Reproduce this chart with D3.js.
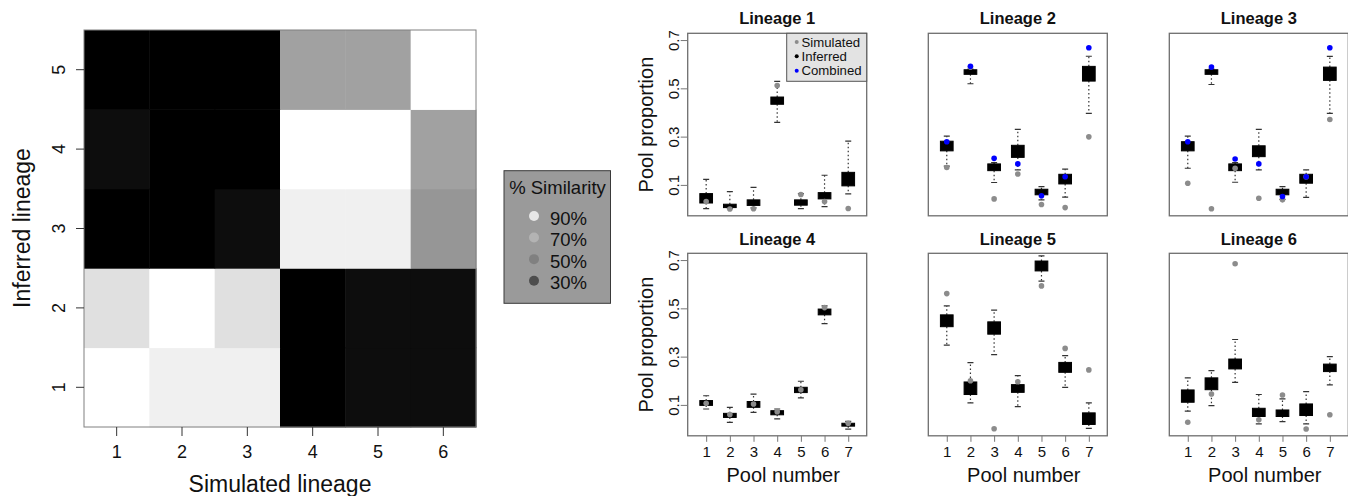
<!DOCTYPE html>
<html>
<head>
<meta charset="utf-8">
<script src="https://cdn.jsdelivr.net/npm/d3@7"></script>
<style>
  html, body { margin: 0; padding: 0; background: #fff; }
  svg { display: block; font-family: "Liberation Sans", Arial, Helvetica, sans-serif; }
</style>
</head>
<body>
<svg id="chart" width="1348" height="496"></svg>
<script>
// ---------------- DATA ----------------
const simulatedLineages = ["1", "2", "3", "4", "5", "6"];
const inferredLineages = ["1", "2", "3", "4", "5"];
// similarity (0..1) rows = inferred lineage 1..5, columns = simulated lineage 1..6
const similarity = [
  [1.00, 0.94, 0.94, 0.00, 0.05, 0.05],
  [0.88, 1.00, 0.88, 0.00, 0.05, 0.05],
  [0.00, 0.00, 0.05, 0.94, 0.94, 0.59],
  [0.05, 0.00, 0.00, 1.00, 1.00, 0.63],
  [0.00, 0.00, 0.00, 0.63, 0.63, 1.00]
];
const similarityLegend = [0.9, 0.7, 0.5, 0.3];
const similarityLegendLabels = ["90%", "70%", "50%", "30%"];

const lineageTitles = ["Lineage 1", "Lineage 2", "Lineage 3", "Lineage 4", "Lineage 5", "Lineage 6"];
const pools = [1, 2, 3, 4, 5, 6, 7];
const yTickValues = [0.1, 0.3, 0.5, 0.7];

// Inferred boxplots per lineage (7 pools each)
const whiskerLow = [
  [0.002, 0.002, 0.005, 0.359, 0.002, 0.010, 0.063],
  [0.178, 0.519, 0.110, 0.162, 0.038, 0.049, 0.396],
  [0.169, 0.516, 0.111, 0.162, 0.040, 0.048, 0.396],
  [0.083, 0.028, 0.069, 0.042, 0.129, 0.437, 0.000],
  [0.348, 0.108, 0.308, 0.093, 0.613, 0.173, 0.003],
  [0.074, 0.097, 0.193, 0.021, 0.031, 0.021, 0.183]
];
const quartile1 = [
  [0.025, 0.006, 0.015, 0.434, 0.016, 0.042, 0.096],
  [0.241, 0.558, 0.159, 0.214, 0.059, 0.104, 0.530],
  [0.241, 0.558, 0.159, 0.217, 0.059, 0.107, 0.533],
  [0.098, 0.048, 0.090, 0.059, 0.151, 0.473, 0.012],
  [0.424, 0.143, 0.393, 0.152, 0.655, 0.235, 0.019],
  [0.111, 0.163, 0.249, 0.052, 0.052, 0.056, 0.238]
];
const quartile3 = [
  [0.064, 0.020, 0.038, 0.464, 0.038, 0.068, 0.152],
  [0.281, 0.577, 0.187, 0.264, 0.082, 0.144, 0.591],
  [0.279, 0.577, 0.187, 0.262, 0.082, 0.144, 0.588],
  [0.118, 0.065, 0.114, 0.076, 0.173, 0.497, 0.024],
  [0.473, 0.195, 0.444, 0.184, 0.696, 0.276, 0.067],
  [0.162, 0.212, 0.290, 0.086, 0.079, 0.104, 0.269]
];
const whiskerHigh = [
  [0.123, 0.072, 0.090, 0.529, 0.064, 0.140, 0.281],
  [0.302, 0.580, 0.192, 0.330, 0.093, 0.165, 0.633],
  [0.302, 0.580, 0.192, 0.330, 0.093, 0.162, 0.632],
  [0.138, 0.090, 0.145, 0.083, 0.198, 0.510, 0.032],
  [0.510, 0.275, 0.493, 0.221, 0.717, 0.304, 0.108],
  [0.212, 0.242, 0.371, 0.143, 0.125, 0.155, 0.300]
];
// Simulated (true) pool proportions
const simulated = [
  [0.031, 0.000, 0.001, 0.512, 0.060, 0.031, 0.002],
  [0.172, 0.588, 0.042, 0.145, 0.019, 0.006, 0.299],
  [0.107, 0.001, 0.169, 0.045, 0.038, 0.134, 0.371],
  [0.107, 0.060, 0.104, 0.072, 0.163, 0.503, 0.024],
  [0.561, 0.200, 0.001, 0.196, 0.593, 0.334, 0.245],
  [0.028, 0.145, 0.685, 0.038, 0.141, 0.000, 0.059]
];
// Combined estimates (only lineages 2 and 3)
const combined = [
  null,
  [0.279, 0.591, 0.210, 0.187, 0.055, 0.134, 0.668],
  [0.279, 0.588, 0.207, 0.187, 0.052, 0.134, 0.668],
  null, null, null
];
const legendLabels = ["Simulated", "Inferred", "Combined"];
const legendColors = ["#8c8c8c", "#000000", "#0000ff"];

// ---------------- DRAW ----------------
const svg = d3.select("#chart");
const FONT = "\"Liberation Sans\", Arial, Helvetica, sans-serif";

// ===== Heatmap =====
const hm = { left: 84, right: 476, top: 30, bottom: 427 };
const hx = d3.scaleBand().domain(simulatedLineages).range([hm.left, hm.right]);
const hy = d3.scaleBand().domain(inferredLineages).range([hm.bottom, hm.top]);
const gray = d3.scaleLinear().domain([0, 1]).range(["#000000", "#ffffff"]);

const cells = [];
similarity.forEach((row, i) => row.forEach((v, j) => cells.push({ r: inferredLineages[i], c: simulatedLineages[j], v })));
svg.append("g").selectAll("rect").data(cells).join("rect")
  .attr("x", d => hx(d.c)).attr("y", d => hy(d.r))
  .attr("width", hx.bandwidth() + 0.5).attr("height", hy.bandwidth() + 0.5)
  .attr("fill", d => gray(d.v));
svg.append("rect").attr("x", hm.left).attr("y", hm.top)
  .attr("width", hm.right - hm.left).attr("height", hm.bottom - hm.top)
  .attr("fill", "none").attr("stroke", "#808080").attr("stroke-width", 1);

const hxAxis = svg.append("g").attr("transform", `translate(0,${hm.bottom})`)
  .call(d3.axisBottom(hx).tickSize(9).tickPadding(0));
hxAxis.select(".domain").remove();
hxAxis.selectAll(".tick line").attr("stroke", "#333");
hxAxis.selectAll(".tick text").attr("y", 25).attr("dy", "0.36em")
  .style("font-size", "18px").style("font-family", FONT).attr("fill", "#111");

const hyAxis = svg.append("g").attr("transform", `translate(${hm.left},0)`)
  .call(d3.axisLeft(hy).tickSize(8).tickPadding(0));
hyAxis.select(".domain").remove();
hyAxis.selectAll(".tick line").attr("stroke", "#333");
hyAxis.selectAll(".tick text").attr("transform", "rotate(-90)")
  .attr("x", 0).attr("y", -19.5).attr("dy", 0).attr("text-anchor", "middle")
  .style("font-size", "18px").style("font-family", FONT).attr("fill", "#111");

svg.append("text").attr("x", (hm.left + hm.right) / 2).attr("y", 491.5)
  .attr("text-anchor", "middle").style("font-size", "23px").attr("fill", "#111")
  .text("Simulated lineage");
svg.append("text").attr("transform", `translate(30,228) rotate(-90)`)
  .attr("text-anchor", "middle").style("font-size", "23px").attr("fill", "#111")
  .text("Inferred lineage");

// Similarity legend
const lg = svg.append("g");
lg.append("rect").attr("x", 504).attr("y", 170.7).attr("width", 106.5).attr("height", 132.6)
  .attr("fill", "#9a9a9a").attr("stroke", "#3a3a3a").attr("stroke-width", 1);
lg.append("text").attr("x", 557.5).attr("y", 193.5).attr("text-anchor", "middle")
  .style("font-size", "18.5px").attr("fill", "#111").text("% Similarity");
const legY = d3.scalePoint().domain(similarityLegendLabels).range([216, 280.7]);
similarityLegend.forEach((v, i) => {
  const lab = similarityLegendLabels[i];
  lg.append("circle").attr("cx", 534).attr("cy", legY(lab)).attr("r", 5).attr("fill", gray(v));
  lg.append("text").attr("x", 550).attr("y", legY(lab) + 8.5)
    .style("font-size", "18.5px").attr("fill", "#111").text(lab);
});

// ===== Boxplot panels =====
const panelLefts = [687.7, 928.3, 1169.3];
const panelTops = [33.3, 253.3];
const PW = 179, PH = 182.5;

lineageTitles.forEach((title, k) => {
  const col = k % 3, row = Math.floor(k / 3);
  const L = panelLefts[col], T = panelTops[row];
  const x = d3.scaleLinear().domain([0.22, 7.78]).range([L, L + PW]);
  const y = d3.scaleLinear().domain([-0.028, 0.728]).range([T + PH, T]);
  const g = svg.append("g");
  const bw = 12.7, sw = 6;

  const stats = pools.map((p, i) => ({
    p, lo: whiskerLow[k][i], q1: quartile1[k][i], q3: quartile3[k][i], hi: whiskerHigh[k][i],
    sim: simulated[k][i], comb: combined[k] ? combined[k][i] : null
  }));

  // whiskers
  g.selectAll(".wh").data(stats).join("path")
    .attr("d", d => `M${x(d.p)},${y(d.q3)}V${y(d.hi)}M${x(d.p)},${y(d.q1)}V${y(d.lo)}`)
    .attr("stroke", "#333").attr("stroke-width", 1.2).attr("stroke-dasharray", "1.5,2.5").attr("fill", "none");
  // staples
  g.selectAll(".st").data(stats).join("path")
    .attr("d", d => `M${x(d.p) - sw / 2},${y(d.hi)}H${x(d.p) + sw / 2}M${x(d.p) - sw / 2},${y(d.lo)}H${x(d.p) + sw / 2}`)
    .attr("stroke", "#333").attr("stroke-width", 1.2).attr("fill", "none");
  // boxes
  g.selectAll(".bx").data(stats).join("rect")
    .attr("x", d => x(d.p) - bw / 2).attr("y", d => y(d.q3))
    .attr("width", bw).attr("height", d => Math.max(1, y(d.q1) - y(d.q3)))
    .attr("fill", "#000").attr("stroke", "#000").attr("stroke-width", 1);
  // simulated points
  g.selectAll(".sim").data(stats).join("circle")
    .attr("cx", d => x(d.p)).attr("cy", d => y(d.sim)).attr("r", 2.8).attr("fill", "#8c8c8c");
  // combined points
  g.selectAll(".cmb").data(stats.filter(d => d.comb !== null)).join("circle")
    .attr("cx", d => x(d.p)).attr("cy", d => y(d.comb)).attr("r", 2.8).attr("fill", "#0000ff");

  // frame
  g.append("rect").attr("x", L).attr("y", T).attr("width", PW).attr("height", PH)
    .attr("fill", "none").attr("stroke", "#6e6e6e").attr("stroke-width", 1.3);

  // title
  g.append("text").attr("x", L + PW / 2).attr("y", row === 0 ? 23.6 : 245.2)
    .attr("text-anchor", "middle").style("font-size", "16.5px").style("font-weight", "bold")
    .attr("fill", "#111").text(title);

  if (col === 0) {
    const ya = g.append("g").attr("transform", `translate(${L},0)`)
      .call(d3.axisLeft(y).tickValues(yTickValues).tickSize(7).tickFormat(d3.format(".1f")));
    ya.select(".domain").remove();
    ya.selectAll(".tick line").attr("stroke", "#777");
    ya.selectAll(".tick text").attr("transform", "rotate(-90)")
      .attr("x", 0).attr("y", -9).attr("dy", 0).attr("text-anchor", "middle")
      .style("font-size", "15px").style("font-family", FONT).attr("fill", "#111");
    g.append("text").attr("transform", `translate(652.6,${T + PH / 2}) rotate(-90)`)
      .attr("text-anchor", "middle").style("font-size", "20px").attr("fill", "#111")
      .text("Pool proportion");
  }
  if (row === 1) {
    const xa = g.append("g").attr("transform", `translate(0,${T + PH})`)
      .call(d3.axisBottom(x).tickValues(pools).tickSize(6).tickFormat(d3.format("d")));
    xa.select(".domain").remove();
    xa.selectAll(".tick line").attr("stroke", "#777");
    xa.selectAll(".tick text").attr("y", 16).attr("dy", "0.36em")
      .style("font-size", "15px").style("font-family", FONT).attr("fill", "#111");
    g.append("text").attr("x", L + PW / 2 + 6).attr("y", 481.7)
      .attr("text-anchor", "middle").style("font-size", "20px").attr("fill", "#111")
      .text("Pool number");
  }

  if (k === 0) {
    const leg = g.append("g");
    leg.append("rect").attr("x", 786.7).attr("y", T).attr("width", L + PW - 786.7).attr("height", 48)
      .attr("fill", "#e3e3e3").attr("stroke", "#555").attr("stroke-width", 1);
    const ly = d3.scalePoint().domain(legendLabels).range([42, 70.7]);
    legendLabels.forEach((lab, i) => {
      leg.append("circle").attr("cx", 796.7).attr("cy", ly(lab)).attr("r", 2).attr("fill", legendColors[i]);
      leg.append("text").attr("x", 801.5).attr("y", ly(lab) + 4.7)
        .style("font-size", "13.2px").attr("fill", "#111").text(lab);
    });
  }
});
</script>
</body>
</html>
